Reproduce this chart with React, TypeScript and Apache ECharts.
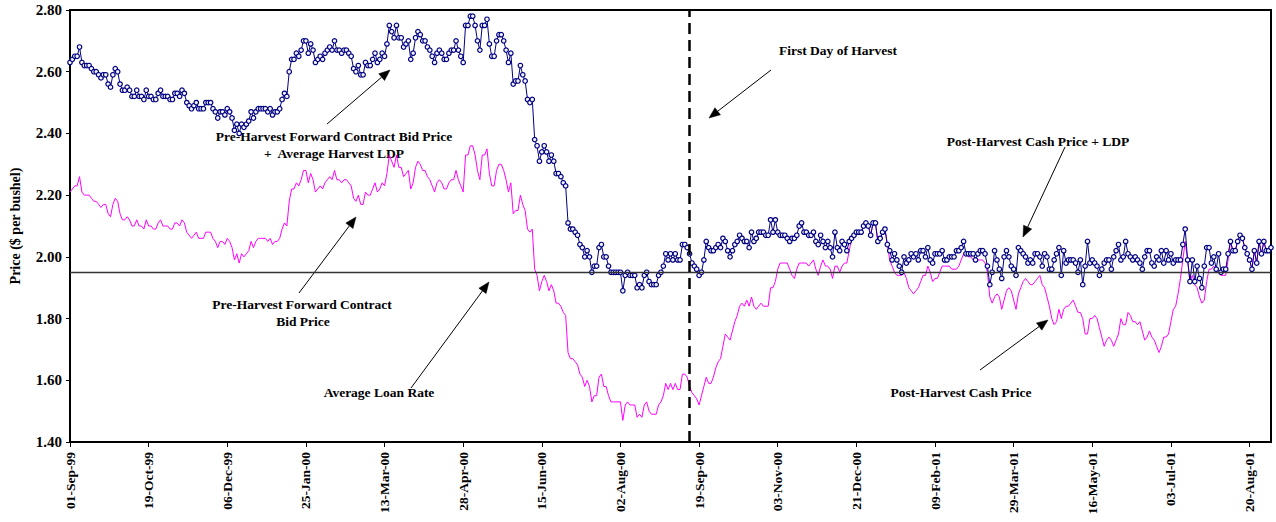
import { useEffect, useRef } from "react";
import * as echarts from "echarts";

// ---------- DATA ----------
// Trading-day calendar (weekdays, market holidays excluded)
const firstDay = "1999-09-01";
const lastDay = "2001-08-31";
const marketHolidays = [
  "1999-09-06", "1999-11-25", "1999-12-24", "1999-12-31", "2000-01-17", "2000-02-21",
  "2000-04-21", "2000-05-29", "2000-07-04", "2000-09-04", "2000-11-23", "2000-12-25",
  "2001-01-01", "2001-01-15", "2001-02-19", "2001-04-13", "2001-05-28", "2001-07-04",
];
const monthNames = ["Jan", "Feb", "Mar", "Apr", "May", "Jun", "Jul", "Aug", "Sep", "Oct", "Nov", "Dec"];

const tickLabels = [
  "01-Sep-99", "19-Oct-99", "06-Dec-99", "25-Jan-00", "13-Mar-00", "28-Apr-00", "15-Jun-00", "02-Aug-00",
  "19-Sep-00", "03-Nov-00", "21-Dec-00", "09-Feb-01", "29-Mar-01", "16-May-01", "03-Jul-01", "20-Aug-01",
];

const firstDayOfHarvest = "13-Sep-00";
const averageLoanRate = 1.95;

// Pre-harvest forward contract bid price (01-Sep-99 .. 12-Sep-00)
const preHarvestBid = [
  2.21, 2.22, 2.23, 2.23, 2.26, 2.21, 2.20, 2.20, 2.20, 2.19,
  2.18, 2.18, 2.17, 2.16, 2.17, 2.17, 2.14, 2.13, 2.17, 2.19,
  2.18, 2.14, 2.12, 2.12, 2.13, 2.12, 2.10, 2.10, 2.12, 2.10,
  2.10, 2.09, 2.12, 2.10, 2.10, 2.09, 2.09, 2.11, 2.12, 2.10,
  2.10, 2.10, 2.09, 2.09, 2.11, 2.11, 2.10, 2.12, 2.11, 2.08,
  2.07, 2.06, 2.07, 2.08, 2.06, 2.06, 2.06, 2.08, 2.08, 2.08,
  2.06, 2.05, 2.03, 2.05, 2.05, 2.04, 2.06, 2.05, 2.03, 1.99,
  2.01, 1.98, 2.01, 2.00, 2.01, 2.02, 2.05, 2.03, 2.05, 2.06,
  2.06, 2.06, 2.06, 2.05, 2.06, 2.04, 2.05, 2.05, 2.06, 2.09,
  2.11, 2.10, 2.18, 2.22, 2.22, 2.24, 2.23, 2.25, 2.28, 2.28,
  2.24, 2.27, 2.25, 2.21, 2.22, 2.23, 2.22, 2.24, 2.25, 2.26,
  2.25, 2.28, 2.25, 2.25, 2.24, 2.25, 2.25, 2.24, 2.23, 2.19,
  2.18, 2.20, 2.17, 2.17, 2.21, 2.20, 2.20, 2.22, 2.24, 2.21,
  2.22, 2.24, 2.23, 2.27, 2.33, 2.31, 2.29, 2.33, 2.29, 2.29,
  2.26, 2.27, 2.28, 2.22, 2.24, 2.29, 2.31, 2.30, 2.28, 2.28,
  2.26, 2.25, 2.23, 2.21, 2.24, 2.25, 2.24, 2.22, 2.22, 2.24,
  2.25, 2.25, 2.28, 2.25, 2.23, 2.21, 2.33, 2.33, 2.36, 2.36,
  2.33, 2.28, 2.25, 2.33, 2.33, 2.35, 2.27, 2.23, 2.23, 2.28,
  2.30, 2.30, 2.28, 2.25, 2.21, 2.24, 2.14, 2.15, 2.15, 2.20,
  2.17, 2.15, 2.09, 2.08, 2.09, 1.96, 1.94, 1.89, 1.92, 1.94,
  1.92, 1.89, 1.91, 1.89, 1.85, 1.85, 1.84, 1.82, 1.81, 1.69,
  1.67, 1.67, 1.66, 1.65, 1.62, 1.61, 1.58, 1.60, 1.58, 1.53,
  1.55, 1.55, 1.61, 1.62, 1.58, 1.58, 1.55, 1.53, 1.53, 1.53,
  1.53, 1.53, 1.47, 1.52, 1.53, 1.52, 1.52, 1.52, 1.48, 1.49,
  1.48, 1.52, 1.53, 1.50, 1.49, 1.49, 1.49, 1.52, 1.53, 1.55,
  1.59, 1.57, 1.59, 1.57, 1.59, 1.57, 1.57, 1.62, 1.62, 1.61,
];

// Pre-harvest forward contract bid price + average harvest LDP
const preHarvestBidPlusLdp = [
  2.63, 2.64, 2.65, 2.65, 2.68, 2.63, 2.62, 2.62, 2.62, 2.61,
  2.60, 2.60, 2.59, 2.58, 2.59, 2.59, 2.56, 2.55, 2.59, 2.61,
  2.60, 2.56, 2.54, 2.54, 2.55, 2.54, 2.52, 2.52, 2.54, 2.52,
  2.52, 2.51, 2.54, 2.52, 2.52, 2.51, 2.51, 2.53, 2.54, 2.52,
  2.52, 2.52, 2.51, 2.51, 2.53, 2.53, 2.52, 2.54, 2.53, 2.50,
  2.49, 2.48, 2.49, 2.50, 2.48, 2.48, 2.48, 2.50, 2.50, 2.50,
  2.48, 2.47, 2.45, 2.47, 2.47, 2.46, 2.48, 2.47, 2.45, 2.41,
  2.43, 2.40, 2.43, 2.42, 2.43, 2.44, 2.47, 2.45, 2.47, 2.48,
  2.48, 2.48, 2.48, 2.47, 2.48, 2.46, 2.47, 2.47, 2.48, 2.51,
  2.53, 2.52, 2.60, 2.64, 2.64, 2.66, 2.65, 2.67, 2.70, 2.70,
  2.66, 2.69, 2.67, 2.63, 2.64, 2.65, 2.64, 2.66, 2.67, 2.68,
  2.67, 2.70, 2.67, 2.67, 2.66, 2.67, 2.67, 2.66, 2.65, 2.61,
  2.60, 2.62, 2.59, 2.59, 2.63, 2.62, 2.62, 2.64, 2.66, 2.63,
  2.64, 2.66, 2.65, 2.69, 2.75, 2.73, 2.71, 2.75, 2.71, 2.71,
  2.68, 2.69, 2.70, 2.64, 2.66, 2.71, 2.73, 2.72, 2.70, 2.70,
  2.68, 2.67, 2.65, 2.63, 2.66, 2.67, 2.66, 2.64, 2.64, 2.66,
  2.67, 2.67, 2.70, 2.67, 2.65, 2.63, 2.75, 2.75, 2.78, 2.78,
  2.75, 2.70, 2.67, 2.75, 2.75, 2.77, 2.69, 2.65, 2.65, 2.70,
  2.72, 2.72, 2.70, 2.67, 2.63, 2.66, 2.56, 2.57, 2.57, 2.62,
  2.59, 2.57, 2.51, 2.50, 2.51, 2.38, 2.36, 2.31, 2.34, 2.36,
  2.34, 2.31, 2.33, 2.31, 2.27, 2.27, 2.26, 2.24, 2.23, 2.11,
  2.09, 2.09, 2.08, 2.07, 2.04, 2.03, 2.00, 2.02, 2.00, 1.95,
  1.97, 1.97, 2.03, 2.04, 2.00, 2.00, 1.97, 1.95, 1.95, 1.95,
  1.95, 1.95, 1.89, 1.94, 1.95, 1.94, 1.94, 1.94, 1.90, 1.91,
  1.90, 1.94, 1.95, 1.92, 1.91, 1.91, 1.91, 1.94, 1.95, 1.97,
  2.01, 1.99, 2.01, 1.99, 2.01, 1.99, 1.99, 2.04, 2.04, 2.03,
];

// Post-harvest cash price (13-Sep-00 .. 31-Aug-01)
const postHarvestCash = [
  1.58, 1.56, 1.55, 1.54, 1.52, 1.55, 1.58, 1.61, 1.59, 1.59,
  1.61, 1.64, 1.66, 1.67, 1.71, 1.75, 1.74, 1.73, 1.76, 1.79,
  1.81, 1.84, 1.85, 1.84, 1.86, 1.84, 1.87, 1.84, 1.83, 1.84,
  1.85, 1.84, 1.84, 1.84, 1.90, 1.90, 1.92, 1.96, 1.98, 1.98,
  1.98, 1.98, 1.96, 1.94, 1.93, 1.96, 1.98, 1.98, 1.98, 1.98,
  1.97, 1.98, 1.99, 1.96, 1.94, 1.97, 1.99, 1.97, 1.97, 1.96,
  1.93, 1.97, 1.97, 1.95, 1.97, 1.98, 1.98, 2.02, 2.06, 2.07,
  2.08, 2.08, 2.08, 2.10, 2.11, 2.10, 2.07, 2.11, 2.11, 2.05,
  2.06, 2.08, 2.09, 2.04, 1.99, 1.97, 1.95, 1.94, 1.94, 1.94,
  1.95, 1.93, 1.90, 1.89, 1.88, 1.89, 1.90, 1.92, 1.94, 1.94,
  1.97, 1.95, 1.92, 1.93, 1.93, 1.95, 1.97, 1.97, 1.97, 1.97,
  1.96, 1.96, 1.96, 1.97, 1.99, 2.01, 2.01, 2.00, 2.00, 1.99,
  1.99, 1.99, 1.99, 1.99, 1.98, 1.95, 1.87, 1.85, 1.87, 1.88,
  1.87, 1.83, 1.86, 1.89, 1.90, 1.89, 1.86, 1.83, 1.88, 1.90,
  1.92, 1.93, 1.92, 1.91, 1.91, 1.92, 1.93, 1.94, 1.91, 1.90,
  1.87, 1.84, 1.80, 1.78, 1.79, 1.83, 1.80, 1.83, 1.84, 1.84,
  1.85, 1.86, 1.84, 1.82, 1.82, 1.80, 1.75, 1.75, 1.80, 1.80,
  1.81, 1.80, 1.77, 1.74, 1.71, 1.73, 1.74, 1.73, 1.71, 1.73,
  1.75, 1.80, 1.78, 1.78, 1.82, 1.81, 1.79, 1.79, 1.78, 1.79,
  1.76, 1.73, 1.74, 1.76, 1.74, 1.73, 1.71, 1.69, 1.71, 1.74,
  1.74, 1.75, 1.79, 1.83, 1.84, 1.88, 1.93, 1.99, 2.05, 1.99,
  1.92, 1.94, 1.91, 1.90, 1.87, 1.85, 1.86, 1.92, 1.96, 1.96,
  1.97, 1.96, 1.95, 1.94, 1.94, 1.94, 1.99, 2.05, 2.02, 2.02,
  2.05, 2.07, 2.06, 2.03, 2.01, 1.99, 1.96, 2.02, 1.98, 2.05,
  2.01, 2.05, 2.02, 2.02, 2.03,
];

// Post-harvest cash price + LDP
const postHarvestCashPlusLdp = [
  2.01, 1.98, 1.97, 1.96, 1.94, 1.95, 1.99, 2.05, 2.03, 2.02,
  2.02, 2.03, 2.04, 2.03, 2.06, 2.05, 2.02, 2.00, 2.02, 2.04,
  2.05, 2.07, 2.06, 2.05, 2.05, 2.03, 2.08, 2.05, 2.06, 2.08,
  2.08, 2.08, 2.07, 2.07, 2.12, 2.08, 2.12, 2.08, 2.07, 2.07,
  2.07, 2.06, 2.05, 2.06, 2.06, 2.07, 2.10, 2.11, 2.08, 2.08,
  2.07, 2.07, 2.08, 2.05, 2.04, 2.07, 2.05, 2.03, 2.05, 2.03,
  2.00, 2.08, 2.03, 2.02, 2.05, 2.04, 2.02, 2.05, 2.06, 2.07,
  2.08, 2.08, 2.08, 2.10, 2.11, 2.10, 2.07, 2.11, 2.11, 2.05,
  2.06, 2.08, 2.09, 2.04, 2.02, 1.99, 2.01, 1.99, 1.97, 1.95,
  2.00, 1.98, 1.99, 2.01, 2.00, 2.01, 1.99, 2.02, 2.02, 2.00,
  2.03, 1.99, 1.98, 2.01, 2.01, 2.01, 2.02, 1.99, 1.99, 2.00,
  2.00, 2.00, 2.02, 2.02, 2.03, 2.05, 2.01, 2.01, 2.01, 2.01,
  1.99, 2.01, 2.02, 2.02, 2.01, 1.97, 1.91, 1.95, 2.02, 1.99,
  1.96, 1.93, 2.00, 2.02, 2.00, 1.97, 1.96, 1.94, 2.03, 2.02,
  2.01, 2.00, 1.98, 1.99, 1.98, 2.01, 2.01, 2.00, 1.97, 2.01,
  2.00, 1.96, 1.96, 1.99, 2.01, 2.03, 1.94, 2.02, 1.98, 1.99,
  1.99, 1.99, 1.98, 1.95, 1.99, 1.91, 1.97, 2.05, 1.98, 1.99,
  1.98, 1.97, 1.94, 1.96, 1.98, 1.99, 1.99, 1.96, 2.00, 2.02,
  2.04, 1.99, 2.00, 2.05, 2.01, 2.00, 1.99, 2.00, 1.99, 1.98,
  1.96, 2.00, 2.02, 2.02, 1.98, 1.97, 2.00, 1.99, 2.02, 1.98,
  2.02, 1.99, 2.01, 1.98, 1.99, 1.99, 1.99, 2.04, 2.09, 1.99,
  1.92, 1.99, 1.92, 1.97, 1.93, 1.90, 1.97, 2.03, 2.03, 1.98,
  2.00, 1.96, 2.01, 1.95, 1.96, 1.96, 2.01, 2.05, 2.02, 2.02,
  2.05, 2.07, 2.06, 2.03, 2.01, 1.99, 1.96, 2.02, 1.98, 2.05,
  2.01, 2.05, 2.02, 2.02, 2.03,
];

// ---------- helpers ----------
function buildTradingDays(): string[] {
  const out: string[] = [];
  const d = new Date(firstDay + "T00:00:00Z");
  const end = new Date(lastDay + "T00:00:00Z").getTime();
  while (d.getTime() <= end) {
    const wd = d.getUTCDay();
    const iso = d.toISOString().slice(0, 10);
    if (wd !== 0 && wd !== 6 && !marketHolidays.includes(iso)) {
      const dd = String(d.getUTCDate()).padStart(2, "0");
      const yy = String(d.getUTCFullYear() % 100).padStart(2, "0");
      out.push(`${dd}-${monthNames[d.getUTCMonth()]}-${yy}`);
    }
    d.setUTCDate(d.getUTCDate() + 1);
  }
  return out;
}

const FONT = '"Times New Roman", "Liberation Serif", serif';

function annotationText(text: string, x: number, y: number) {
  return {
    type: "text",
    x,
    y,
    silent: true,
    style: {
      text,
      fill: "#000",
      fontFamily: FONT,
      fontWeight: "bold",
      fontSize: 13.5,
      align: "center",
      verticalAlign: "middle",
      textAlign: "center",
      textVerticalAlign: "middle",
    },
  };
}

function arrow(x1: number, y1: number, x2: number, y2: number) {
  const dx = x2 - x1;
  const dy = y2 - y1;
  const len = Math.sqrt(dx * dx + dy * dy);
  const ux = dx / len;
  const uy = dy / len;
  const L = 11;
  const W = 4.5;
  const bx = x2 - ux * L;
  const by = y2 - uy * L;
  const nx = -uy;
  const ny = ux;
  return [
    {
      type: "line",
      silent: true,
      shape: { x1, y1, x2: bx, y2: by },
      style: { stroke: "#000", lineWidth: 1 },
    },
    {
      type: "polygon",
      silent: true,
      shape: {
        points: [
          [x2, y2],
          [bx + nx * W, by + ny * W],
          [bx - nx * W, by - ny * W],
        ],
      },
      style: { fill: "#000", stroke: "#000", lineWidth: 0.5 },
    },
  ];
}

export default function App() {
  const ref = useRef<HTMLDivElement>(null);

  useEffect(() => {
    if (!ref.current) return;
    const chart = echarts.init(ref.current, undefined, { renderer: "svg" });
    const dates = buildTradingDays();
    const cashSeries = preHarvestBid.concat(postHarvestCash);
    const ldpSeries = preHarvestBidPlusLdp.concat(postHarvestCashPlusLdp);
    const showTick = (_i: number, value: string) => tickLabels.includes(value);

    chart.setOption({
      animation: false,
      backgroundColor: "#ffffff",
      grid: {
        left: 68,
        right: 5,
        top: 10,
        bottom: 80,
        show: true,
        borderColor: "#000",
        borderWidth: 2,
        backgroundColor: "transparent",
      },
      xAxis: {
        type: "category",
        data: dates,
        boundaryGap: false,
        axisLine: { show: true, lineStyle: { color: "#000", width: 2 } },
        axisTick: { show: true, interval: showTick, length: 5, lineStyle: { color: "#000", width: 1 } },
        axisLabel: {
          interval: showTick,
          rotate: 90,
          margin: 10,
          color: "#000",
          fontFamily: FONT,
          fontWeight: "bold",
          fontSize: 13.5,
        },
        splitLine: { show: false },
      },
      yAxis: {
        type: "value",
        min: 1.4,
        max: 2.8,
        interval: 0.2,
        name: "Price ($ per bushel)",
        nameLocation: "middle",
        nameGap: 48,
        nameRotate: 90,
        nameTextStyle: { color: "#000", fontFamily: FONT, fontWeight: "bold", fontSize: 14 },
        axisLine: { show: true, lineStyle: { color: "#000", width: 2 } },
        axisTick: { show: true, length: 4, lineStyle: { color: "#000", width: 1 } },
        axisLabel: {
          margin: 8,
          color: "#000",
          fontFamily: FONT,
          fontWeight: "bold",
          fontSize: 15,
          formatter: (v: number) => v.toFixed(2),
        },
        splitLine: { show: false },
      },
      series: [
        {
          name: "Bid / Cash Price",
          type: "line",
          data: cashSeries,
          symbol: "none",
          lineStyle: { color: "#FF00FF", width: 1 },
          itemStyle: { color: "#FF00FF" },
          emphasis: { disabled: true },
          markLine: {
            silent: true,
            symbol: "none",
            label: { show: false },
            lineStyle: { color: "#333", width: 1.3, type: "solid" },
            data: [{ yAxis: averageLoanRate }],
          },
          z: 2,
        },
        {
          name: "Price + LDP",
          type: "line",
          data: ldpSeries,
          symbol: "circle",
          symbolSize: 4.5,
          showAllSymbol: true,
          lineStyle: { color: "#000080", width: 1 },
          itemStyle: { color: "#f4f4ff", borderColor: "#000080", borderWidth: 1.2 },
          emphasis: { disabled: true },
          markLine: {
            silent: true,
            symbol: "none",
            label: { show: false },
            lineStyle: { color: "#000", width: 2.5, type: [11, 6] },
            data: [{ xAxis: firstDayOfHarvest }],
          },
          z: 3,
        },
      ],
      graphic: [
        annotationText("Pre-Harvest Forward Contract Bid Price", 334, 136),
        annotationText("+\u00a0 Average Harvest LDP", 334, 153),
        ...arrow(327, 124, 390, 70),
        annotationText("Pre-Harvest Forward Contract", 302, 304),
        annotationText("Bid Price", 303, 321),
        ...arrow(299, 293, 356, 217),
        annotationText("Average Loan Rate", 379, 392),
        ...arrow(411, 388, 489, 282),
        annotationText("First Day of Harvest", 838, 50),
        ...arrow(771, 70, 709, 118),
        annotationText("Post-Harvest Cash Price + LDP", 1038, 141),
        ...arrow(1065, 147, 1023, 237),
        annotationText("Post-Harvest Cash Price", 961, 392),
        ...arrow(980, 370, 1048, 320),
      ],
    });

    return () => chart.dispose();
  }, []);

  return (
    <div
      ref={ref}
      style={{ position: "absolute", left: 0, top: 0, width: 1276, height: 522, background: "#fff" }}
    />
  );
}
